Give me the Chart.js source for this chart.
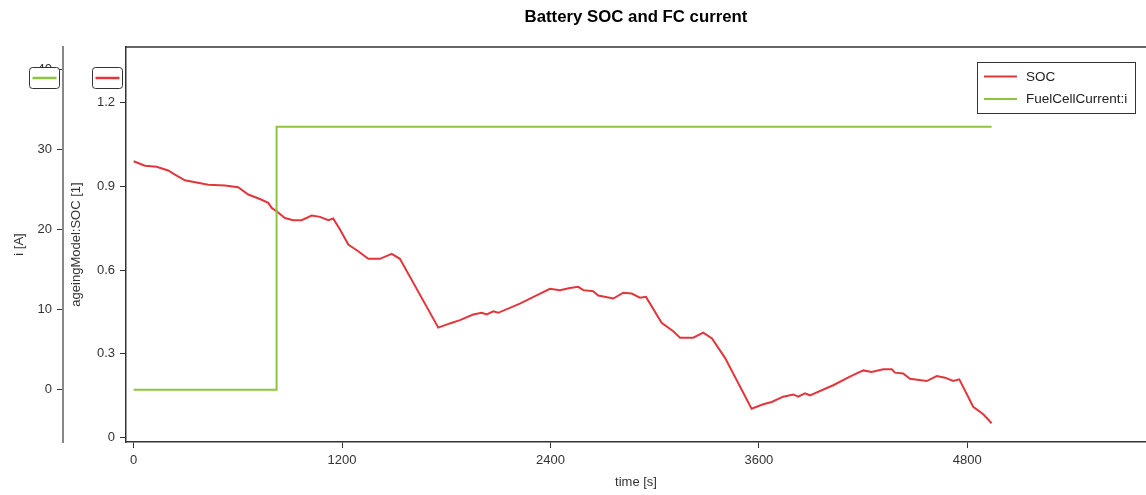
<!DOCTYPE html>
<html>
<head>
<meta charset="utf-8">
<script src="https://cdn.jsdelivr.net/npm/chart.js@4.4.0/dist/chart.umd.min.js"></script>
<style>
  body { margin: 0; background: #fff; }
  canvas { display: block; }
</style>
</head>
<body>
<canvas id="chart" width="1146" height="495"></canvas>
<script>
// values
const socTime = [0, 65, 132, 199, 238, 295, 430, 526, 602, 660, 727, 775, 795, 823, 871, 919, 967, 1025, 1073, 1121,
  1149, 1188, 1236, 1293, 1351, 1418, 1486, 1533, 1754, 1821, 1879, 1955, 2004, 2033, 2071, 2099, 2224, 2320, 2397, 2455,
  2512, 2560, 2589, 2646, 2675, 2762, 2819, 2868, 2915, 2950, 3040, 3107, 3146, 3222, 3280, 3330, 3405, 3558, 3625, 3674,
  3740, 3798, 3827, 3865, 3894, 4028, 4124, 4201, 4249, 4316, 4365, 4384, 4431, 4470, 4566, 4624, 4672, 4719, 4754, 4834,
  4892, 4940];
const socValue = [0.989, 0.973, 0.969, 0.956, 0.941, 0.921, 0.905, 0.902, 0.896, 0.870, 0.854, 0.840, 0.822, 0.810, 0.786, 0.778, 0.778, 0.795, 0.790, 0.778,
  0.784, 0.745, 0.691, 0.667, 0.640, 0.640, 0.658, 0.640, 0.394, 0.409, 0.421, 0.441, 0.447, 0.441, 0.452, 0.447, 0.480, 0.509, 0.533, 0.528,
  0.536, 0.540, 0.528, 0.524, 0.509, 0.498, 0.519, 0.516, 0.501, 0.504, 0.411, 0.381, 0.358, 0.358, 0.376, 0.355, 0.286, 0.104, 0.120, 0.128,
  0.147, 0.155, 0.147, 0.159, 0.152, 0.188, 0.219, 0.241, 0.235, 0.245, 0.245, 0.233, 0.230, 0.211, 0.203, 0.221, 0.215, 0.203, 0.209, 0.111,
  0.084, 0.052];
const fcTime = [0, 823, 823, 4940];
const fcCurrent = [0, 0, 32.8, 32.8];

const timeTicks = [0, 1200, 2400, 3600, 4800];
const socTicks = [0, 0.3, 0.6, 0.9, 1.2];
const currentTicks = [0, 10, 20, 30, 40];

const RED = '#e2363c';
const GREEN = '#8cc63e';
const FONT = 'Arial, "Liberation Sans", sans-serif';

function toPoints(xs, ys) {
  return xs.map((x, i) => ({x: x, y: ys[i]}));
}

function fixedTicks(values) {
  return (scale) => { scale.ticks = values.map(v => ({value: v})); };
}

// title, frame, legend box and the little axis keys
const decor = {
  id: 'decor',
  afterDraw(chart) {
    const ctx = chart.ctx;
    const area = chart.chartArea;
    ctx.save();

    ctx.fillStyle = '#000';
    ctx.font = 'bold 16.8px ' + FONT;
    ctx.textAlign = 'center';
    ctx.textBaseline = 'middle';
    ctx.fillText('Battery SOC and FC current', (area.left + area.right) / 2, 17);

    ctx.strokeStyle = '#333';
    ctx.lineWidth = 1.5;
    ctx.beginPath();
    ctx.moveTo(area.left, area.top);
    ctx.lineTo(area.right, area.top);
    ctx.stroke();

    // axis keys
    const keys = [
      {scale: chart.scales.yI, color: GREEN},
      {scale: chart.scales.ySoc, color: RED}
    ];
    keys.forEach(k => {
      const x = k.scale.right - 33.5;
      const y = 67.5;
      ctx.fillStyle = '#fff';
      ctx.strokeStyle = '#333';
      ctx.lineWidth = 1;
      ctx.beginPath();
      ctx.roundRect(x, y, 30, 21, 3);
      ctx.fill();
      ctx.stroke();
      ctx.strokeStyle = k.color;
      ctx.lineWidth = 2.5;
      ctx.beginPath();
      ctx.moveTo(x + 3, y + 10.5);
      ctx.lineTo(x + 27, y + 10.5);
      ctx.stroke();
    });

    // legend
    const lx = 977.5, ly = 62.5, lw = 158, lh = 51;
    ctx.fillStyle = '#fff';
    ctx.fillRect(lx, ly, lw, lh);
    ctx.strokeStyle = '#333';
    ctx.lineWidth = 1;
    ctx.strokeRect(lx, ly, lw, lh);
    ctx.font = '13.5px ' + FONT;
    ctx.textAlign = 'left';
    ctx.textBaseline = 'middle';
    chart.data.datasets.forEach((ds, i) => {
      const yy = 76.5 + i * 22.5;
      ctx.strokeStyle = ds.borderColor;
      ctx.lineWidth = 2;
      ctx.beginPath();
      ctx.moveTo(984, yy);
      ctx.lineTo(1017, yy);
      ctx.stroke();
      ctx.fillStyle = '#222';
      ctx.fillText(ds.label, 1026, yy + 0.5);
    });

    ctx.restore();
  }
};

const tickFont = {family: FONT, size: 13};

new Chart(document.getElementById('chart'), {
  type: 'line',
  data: {
    datasets: [{
      label: 'SOC',
      data: toPoints(socTime, socValue),
      borderColor: RED,
      borderWidth: 2,
      pointRadius: 0,
      yAxisID: 'ySoc',
      order: 1
    }, {
      label: 'FuelCellCurrent:i',
      data: toPoints(fcTime, fcCurrent),
      borderColor: GREEN,
      borderWidth: 2,
      pointRadius: 0,
      yAxisID: 'yI',
      order: 0
    }]
  },
  options: {
    responsive: false,
    animation: false,
    layout: {padding: {top: 47, right: 0, bottom: 0, left: 0}},
    plugins: {
      legend: {display: false},
      title: {display: false},
      tooltip: {enabled: false}
    },
    scales: {
      x: {
        type: 'linear',
        position: 'bottom',
        min: -44,
        max: 5829,
        afterBuildTicks: fixedTicks(timeTicks),
        afterFit: (scale) => { scale.height = 53; },
        grid: {drawOnChartArea: false, tickLength: 6, tickColor: '#333'},
        border: {color: '#333', width: 1.5},
        ticks: {font: tickFont, color: '#333', padding: 5, maxRotation: 0, callback: v => String(v)},
        title: {display: true, text: 'time [s]', font: tickFont, color: '#333', padding: {top: 0, bottom: 5}}
      },
      ySoc: {
        type: 'linear',
        position: 'left',
        weight: 0,
        min: -0.015,
        max: 1.3975,
        afterBuildTicks: fixedTicks(socTicks),
        afterFit: (scale) => { scale.width = 63; },
        grid: {drawOnChartArea: false, tickLength: 6, tickColor: '#333'},
        border: {color: '#333', width: 1.5},
        ticks: {font: tickFont, color: '#333', padding: 5, callback: v => String(v)},
        title: {display: true, text: 'ageingModel:SOC [1]', font: tickFont, color: '#333', padding: {top: 6, bottom: 0}}
      },
      yI: {
        type: 'linear',
        position: 'left',
        weight: 1,
        min: -6.5,
        max: 42.75,
        afterBuildTicks: fixedTicks(currentTicks),
        afterFit: (scale) => { scale.width = 63; },
        grid: {drawOnChartArea: false, tickLength: 6, tickColor: '#333'},
        border: {color: '#888', width: 2},
        ticks: {font: tickFont, color: '#333', padding: 5, callback: v => String(v)},
        title: {display: true, text: 'i [A]', font: tickFont, color: '#333', padding: {top: 12, bottom: 0}}
      }
    }
  },
  plugins: [decor]
});
</script>
</body>
</html>
